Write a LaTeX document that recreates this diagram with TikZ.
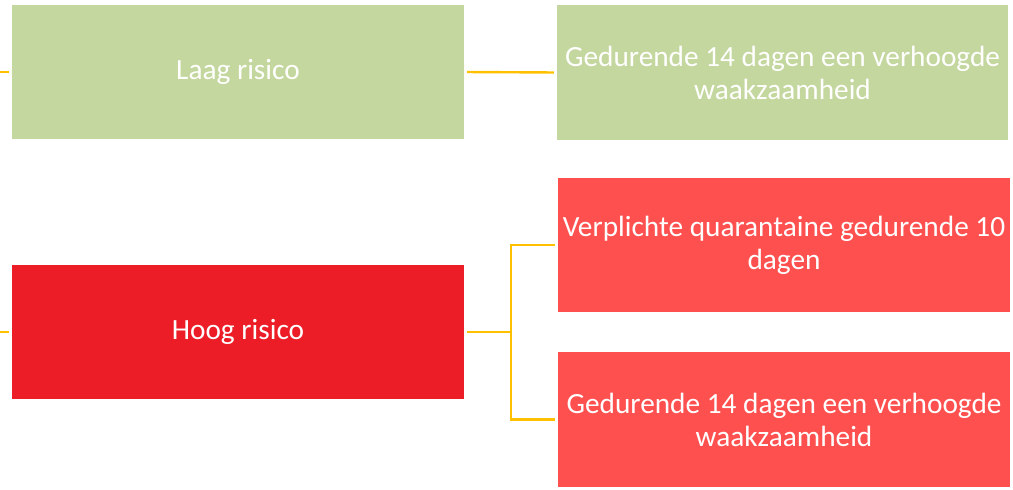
\documentclass[tikz,border=0pt]{standalone}
\usepackage{fontspec}
\setmainfont{Carlito}
\usepackage{tikz}
\definecolor{laaggroen}{HTML}{C4D79E}
\definecolor{hoogrood}{HTML}{ED1D27}
\definecolor{actierood}{HTML}{FF5050}
\definecolor{lijngeel}{HTML}{FFC000}
\tikzset{
  risk/.style={draw=none, minimum width=452pt, minimum height=134pt, inner sep=0pt,
    text=white, align=center, font=\fontsize{29.3}{33}\selectfont},
  laag/.style={risk, fill=laaggroen},
  hoog/.style={risk, fill=hoogrood},
  actie/.style={risk, fill=actierood},
  conn/.style={draw=lijngeel, line width=2.4pt, shorten >=3pt, shorten <=3pt}
}
\begin{document}
\begin{tikzpicture}[x=1pt,y=-1pt]
\useasboundingbox (0,0) rectangle (1013,490);
% boxes
\node[laag] (laag) at (238,72) {Laag risico};
\node[laag, minimum width=451pt, minimum height=135pt] (laagact) at (782.5,72.5)
  {Gedurende 14 dagen een verhoogde\\waakzaamheid};
\node[hoog] (hoog) at (238,332) {Hoog risico};
\node[actie] (hoogq) at (784,245) {Verplichte quarantaine gedurende 10\\dagen};
\node[actie, minimum height=135pt] (hooga) at (784,419.5)
  {Gedurende 14 dagen een verhoogde\\waakzaamheid};
% connectors
\coordinate (inlaag) at (0,72);
\coordinate (inhoog) at (0,332);
\draw[conn, shorten <=0pt] (inlaag) -- (laag.west);
\draw[conn, shorten <=0pt] (inhoog) -- (hoog.west);
\draw[conn] (laag.east) -- (laagact.west);
\draw[conn, shorten >=0pt] (hoog.east) -- ++(47,0) coordinate (split);
\draw[conn] (hoogq.west) -| (split) |- (hooga.west);
\end{tikzpicture}
\end{document}
